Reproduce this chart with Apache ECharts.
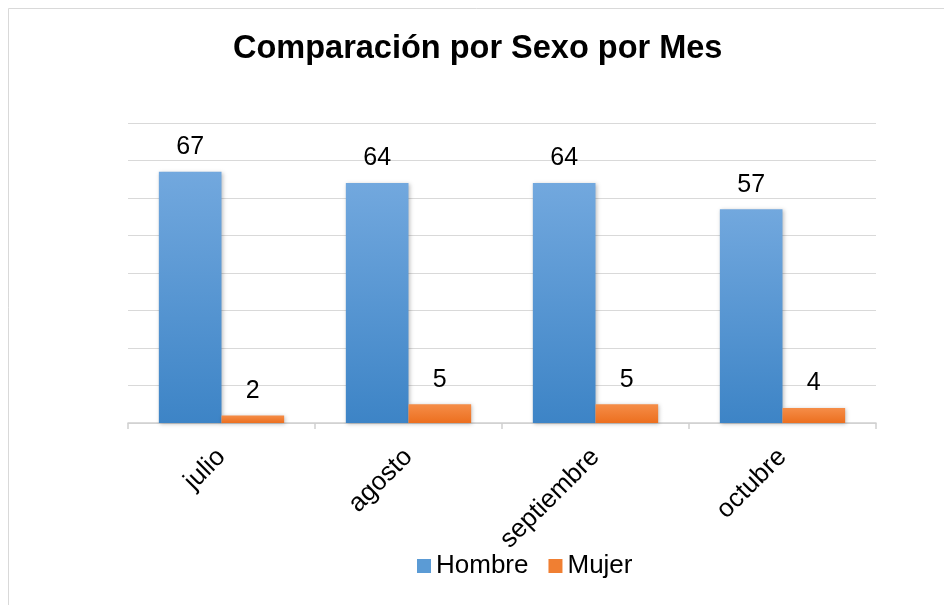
<!DOCTYPE html>
<html><head><meta charset="utf-8">
<script src="https://cdn.jsdelivr.net/npm/echarts@6/dist/echarts.min.js"></script>
<style>html,body{margin:0;padding:0;background:#fff}#c{width:944px;height:605px}</style>
</head><body><div id="c"></div>
<script>
const categories = ['julio', 'agosto', 'septiembre', 'octubre'];
const hombre = [67, 64, 64, 57];
const mujer = [2, 5, 5, 4];
const seriesNames = ['Hombre', 'Mujer'];

const chart = echarts.init(document.getElementById('c'));
const font = 'Arial, "Liberation Sans", sans-serif';
const blue = new echarts.graphic.LinearGradient(0, 0, 0, 1, [{offset: 0, color: '#72a8de'}, {offset: 1, color: '#3d84c6'}]);
const orange = new echarts.graphic.LinearGradient(0, 0, 0, 1, [{offset: 0, color: '#f58d48'}, {offset: 1, color: '#ec6f1f'}]);
const lbl = {show: true, position: 'top', distance: 12, fontSize: 25, color: '#000', fontFamily: font};
chart.setOption({
  animation: false,
  backgroundColor: '#fff',
  graphic: [{type: 'rect', shape: {x: 8.5, y: 8.5, width: 1000, height: 1000}, style: {fill: 'none', stroke: '#d9d9d9', lineWidth: 1}, silent: true}],
  title: {text: 'Comparación por Sexo por Mes', left: 228, top: 28, textStyle: {fontSize: 32.5, fontWeight: 'bold', color: '#000', fontFamily: font}},
  legend: {top: 548, left: 412, itemWidth: 14, itemHeight: 14, itemGap: 20, icon: 'rect',
    textStyle: {fontSize: 26, color: '#000', fontFamily: font, padding: [0, 0, 0, 0]},
    data: [{name: seriesNames[0], itemStyle: {color: '#5b9bd5'}}, {name: seriesNames[1], itemStyle: {color: '#f07f32'}}]},
  grid: {left: 128, right: 68, top: 123, bottom: 182, containLabel: false},
  xAxis: {type: 'category', data: categories,
    axisLine: {lineStyle: {color: '#d0d0d0', width: 1.5}},
    axisTick: {show: true, length: 6, lineStyle: {color: '#d0d0d0', width: 1.5}},
    axisLabel: {rotate: 45, fontSize: 26, color: '#000', fontFamily: font, margin: 30}},
  yAxis: {type: 'value', min: 0, max: 80, interval: 10, axisLabel: {show: false}, axisLine: {show: false}, axisTick: {show: false},
    splitLine: {lineStyle: {color: '#d9d9d9', width: 1.2}}},
  series: [
    {name: seriesNames[0], type: 'bar', data: hombre, barGap: '0%', barCategoryGap: '33%', itemStyle: {color: blue, shadowBlur: 4, shadowColor: 'rgba(0,0,0,0.25)', shadowOffsetX: 1, shadowOffsetY: 1}, label: lbl},
    {name: seriesNames[1], type: 'bar', data: mujer, itemStyle: {color: orange, shadowBlur: 4, shadowColor: 'rgba(0,0,0,0.25)', shadowOffsetX: 1, shadowOffsetY: 1}, label: lbl}
  ]
});
</script></body></html>
